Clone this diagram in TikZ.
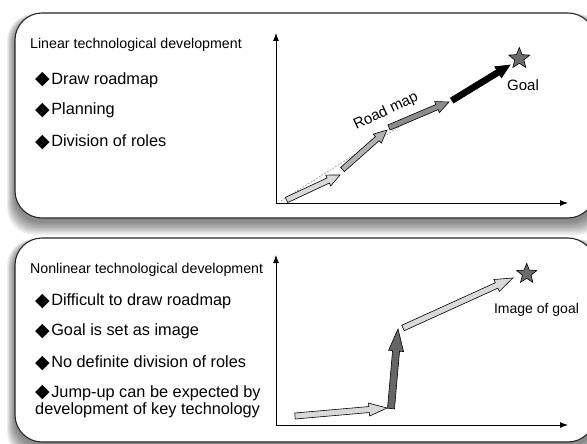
\documentclass[tikz,border=0pt]{standalone}
\usepackage{fontspec}
\setmainfont{Liberation Sans}
\newfontfamily\symfont{DejaVu Sans}
\usetikzlibrary{calc,arrows.meta,shapes.geometric}
\newcommand{\barrow}[6]{%
  \coordinate (hh) at ($(#3)!#6!(#2)$);
  \filldraw[fill=#1, draw=black, line width=0.6pt, line join=miter]
    ($(#2)!#4!90:(#3)$) -- ($(hh)!#4!90:(#3)$) -- ($(hh)!#5!90:(#3)$) -- (#3)
    -- ($(hh)!#5!-90:(#3)$) -- ($(hh)!#4!-90:(#3)$) -- ($(#2)!#4!-90:(#3)$) -- cycle;}
\newcommand{\dia}{\smash{\raisebox{-0.5pt}{\symfont\fontsize{19}{19}\selectfont ◆}}\hspace{1.5pt}}
\tikzset{
  panel/.style={draw=black!85, fill=white, line width=1.1pt, rounded corners=27pt},
  axis/.style={line width=0.9pt, -{Latex[length=8pt,width=6pt]}},
  head/.style={anchor=west, inner sep=0pt, font=\fontsize{14.2}{16}\selectfont},
  item/.style={anchor=west, inner sep=0pt, font=\fontsize{16.3}{17.2}\selectfont},
  lbl/.style={inner sep=0pt, font=\fontsize{14}{16}\selectfont},
  goalstar/.style={star, star points=5, star point ratio=2.3, draw=black, fill=black!58, line width=0.6pt, inner sep=0pt},
}
\begin{document}
\begin{tikzpicture}[x=1pt,y=-1pt]
\useasboundingbox (0,0) rectangle (587,444);
% shadows
\foreach \i in {1,...,10}{
  \fill[black, opacity=0.06, rounded corners=27pt] (15-\i*0.8,13+4-\i*0.3) rectangle (595+\i,218+3+\i*1.4);
  \fill[black, opacity=0.06, rounded corners=27pt] (15-\i*0.8,238+4-\i*0.3) rectangle (595+\i,442+3+\i*1.4);
}
% panels
\draw[panel] (15,13) rectangle (595,218);
\draw[panel] (15,238) rectangle (595,442);

% ---------- top panel ----------
\node[head] (h1) at (30,45) {Linear technological development};
\node[item] (t1) at (35,80) {\dia Draw roadmap};
\node[item] (t2) at (35,110.5) {\dia Planning};
\node[item] (t3) at (35,141) {\dia Division of roles};

\coordinate (o1) at (276,203);
\coordinate (y1) at (276,33);
\coordinate (x1) at (568,203);
\draw[axis] (o1) -- (y1);
\draw[axis] (o1) -- (x1);

\coordinate (d1) at (281,201);
\coordinate (d2) at (402,125);
\draw[gray, line width=0.6pt, dash pattern=on 1.6pt off 1.6pt] (d1) -- (d2);

\coordinate (p1) at (286.5,200);
\coordinate (p2) at (340,175);
\coordinate (p3) at (342.5,169.5);
\coordinate (p4) at (387,130);
\coordinate (p5) at (389,127.5);
\coordinate (p6) at (449,102);
\coordinate (p7) at (452,100.5);
\coordinate (p8) at (510,65);
\barrow{gray!30}{p1}{p2}{2.8pt}{6pt}{13pt}
\barrow{gray!60}{p3}{p4}{2.8pt}{6pt}{13pt}
\barrow{black!45}{p5}{p6}{2.8pt}{6pt}{13pt}
\barrow{black}{p7}{p8}{3pt}{6.5pt}{14pt}

\node[goalstar, minimum size=22pt] (s1) at (519.3,58.5) {};
\node[lbl, font=\fontsize{15}{17}\selectfont] (g1) at (523,85) {Goal};
\node[lbl, rotate=25, font=\fontsize{15}{17}\selectfont] (rm) at (386,111.5) {Road map};

% ---------- bottom panel ----------
\node[head] (h2) at (30,270) {Nonlinear technological development};
\node[item] (u1) at (35,301.5) {\dia Difficult to draw roadmap};
\node[item] (u2) at (35,331.5) {\dia Goal is set as image};
\node[item] (u3) at (35,362) {\dia No definite division of roles};
\node[item, align=left] (u4) at (35,401.5) {\dia Jump-up can be expected by\\development of key technology};

\coordinate (o2) at (276,425);
\coordinate (y2) at (276,255);
\coordinate (x2) at (568,425);
\draw[axis] (o2) -- (y2);
\draw[axis] (o2) -- (x2);

\coordinate (q1) at (295,416);
\coordinate (q2) at (387,408);
\coordinate (q3) at (391,408.5);
\coordinate (q4) at (398,329);
\coordinate (q5) at (403,328);
\coordinate (q6) at (513,278);
\barrow{gray!30}{q1}{q2}{3pt}{6.5pt}{18pt}
\barrow{black!60}{q3}{q4}{3.5pt}{7.5pt}{22pt}
\barrow{gray!30}{q5}{q6}{3pt}{6.5pt}{18pt}

\node[goalstar, minimum size=21pt] (s2) at (526.7,273.8) {};
\node[lbl] (g2) at (536.5,310) {Image of goal};
\end{tikzpicture}
\end{document}
